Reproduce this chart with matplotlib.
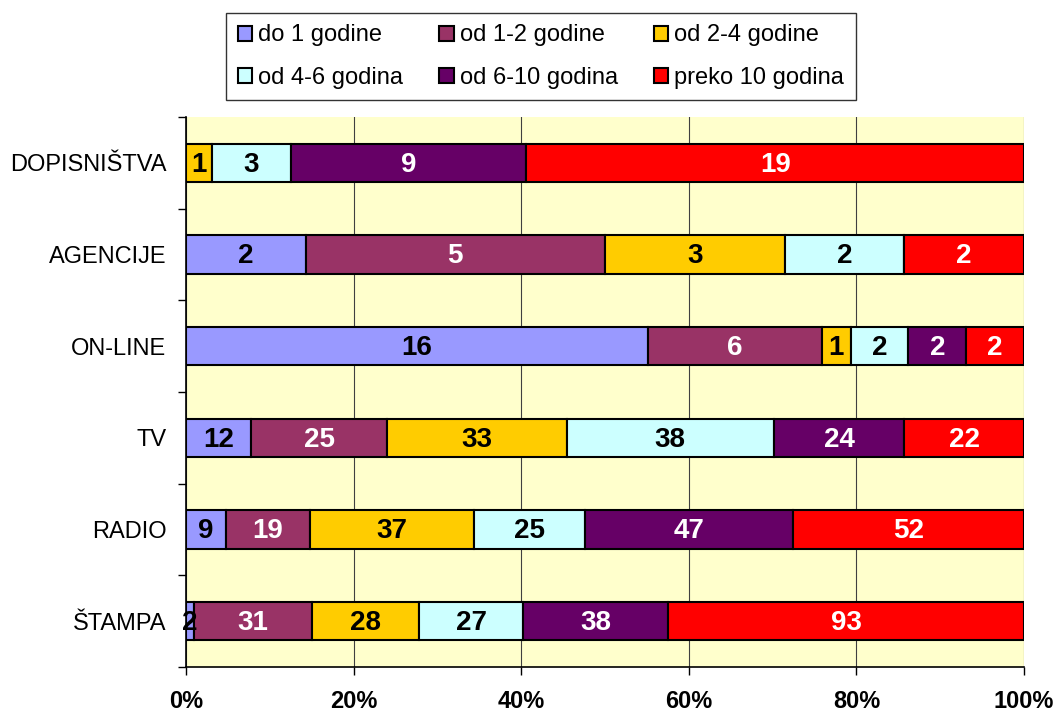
import matplotlib
matplotlib.use("Agg")
import matplotlib.pyplot as plt
import numpy as np

plt.rcParams['font.family'] = ['Liberation Sans', 'DejaVu Sans']

categories = ["ŠTAMPA", "RADIO", "TV", "ON-LINE", "AGENCIJE", "DOPISNIŠTVA"]
series_names = ["do 1 godine", "od 1-2 godine", "od 2-4 godine",
                "od 4-6 godina", "od 6-10 godina", "preko 10 godina"]
do1 = [2, 9, 12, 16, 2, 0]
od12 = [31, 19, 25, 6, 5, 0]
od24 = [28, 37, 33, 1, 3, 1]
od46 = [27, 25, 38, 2, 2, 3]
od610 = [38, 47, 24, 2, 0, 9]
preko10 = [93, 52, 22, 2, 2, 19]
xtick_labels = ["0%", "20%", "40%", "60%", "80%", "100%"]

series = [do1, od12, od24, od46, od610, preko10]
colors = ["#9999FF", "#993366", "#FFCC00", "#CCFFFF", "#660066", "#FF0000"]
text_colors = ["black", "white", "black", "black", "white", "white"]

W, H = 1060, 715
fig = plt.figure(figsize=(W / 100, H / 100), dpi=100)
ax = fig.add_axes([186 / W, 1 - 667 / H, (1024 - 186) / W, (667 - 117) / H])
ax.set_facecolor("#FFFFCC")

data = np.array(series, dtype=float)
totals = data.sum(axis=0)
pct = data / totals * 100
y = np.arange(len(categories))
left = np.zeros(len(categories))
handles = []
for i, name in enumerate(series_names):
    bars = ax.barh(y, pct[i], left=left, height=0.415, color=colors[i],
                   edgecolor="black", linewidth=1.5, label=name, zorder=3)
    handles.append(bars)
    for j in range(len(categories)):
        if data[i, j] > 0:
            ax.text(left[j] + pct[i, j] / 2, y[j] - 0.02, f"{int(data[i, j])}",
                    ha="center", va="center", fontsize=20, fontweight="bold",
                    color=text_colors[i], zorder=4)
    left += pct[i]

ax.set_xlim(0, 100)
ax.set_ylim(-0.5, len(categories) - 0.5)
ax.set_xticks(np.arange(0, 101, 20))
ax.set_xticklabels(xtick_labels, fontsize=17, fontweight="bold")
ax.tick_params(axis="x", direction="out", length=5.5, width=1, pad=11)
ax.xaxis.grid(True, color="#404040", linewidth=0.8, zorder=1)
ax.set_yticks(y)
ax.set_yticklabels(categories, fontsize=17)
ax.tick_params(axis="y", length=0, pad=14)
ax.set_yticks(np.arange(-0.5, len(categories)), minor=True)
ax.tick_params(axis="y", which="minor", direction="out", length=5.5, width=1)
for s in ["top", "right"]:
    ax.spines[s].set_visible(False)
ax.spines["left"].set_linewidth(1.2)
ax.spines["bottom"].set_linewidth(1.2)
ax.set_axisbelow(True)

order = [0, 3, 1, 4, 2, 5]
leg = fig.legend(handles=[handles[k] for k in order],
                 labels=[series_names[k] for k in order], ncol=3,
                 loc="center", bbox_to_anchor=((222 + 860) / 2 / W, 1 - 56.5 / H),
                 fontsize=17, frameon=True, fancybox=False, edgecolor="black",
                 handlelength=0.6, handleheight=0.6, handletextpad=0.25,
                 columnspacing=1.55, labelspacing=0.85, borderpad=0.5,
                 borderaxespad=0)
leg.get_frame().set_linewidth(1.0)

fig.savefig("out.png", dpi=100, facecolor="white")
